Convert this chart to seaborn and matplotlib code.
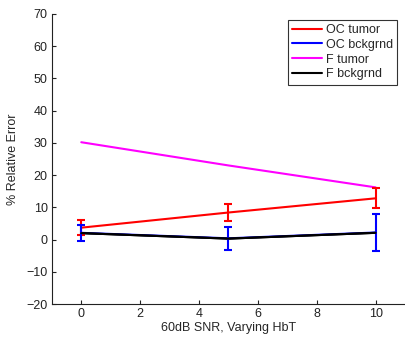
import numpy as np
import pandas as pd
import matplotlib
matplotlib.use("Agg")
import matplotlib.pyplot as plt
import seaborn as sns

x_vals = [0, 5, 10]
oc_tumor = [3.7, 8.4, 12.8]
oc_tumor_err = [2.4, 2.6, 3.1]
oc_bck = [2.1, 0.4, 2.2]
oc_bck_err = [2.5, 3.5, 5.6]
f_tumor = [30.2, 23.0, 16.2]
f_bck = [2.0, 0.3, 2.1]
series_names = ["OC tumor", "OC bckgrnd", "F tumor", "F bckgrnd"]
colors = ["#ff0000", "#0000ff", "#ff00ff", "#000000"]

sns.set_style("ticks")
plt.rcParams["font.family"] = ["Liberation Sans", "DejaVu Sans"]
plt.rcParams["xtick.direction"] = "in"
plt.rcParams["ytick.direction"] = "in"

fig = plt.figure(figsize=(4.05, 3.39), dpi=100)
ax = fig.add_axes([0.128, 0.103, 0.872, 0.856])

df = pd.concat([
    pd.DataFrame({"x": x_vals, "y": vals, "series": name})
    for name, vals in zip(series_names, [oc_tumor, oc_bck, f_tumor, f_bck])
])

sns.lineplot(data=df, x="x", y="y", hue="series", hue_order=series_names,
             palette=colors, linewidth=1.5, ax=ax, legend=True)

ax.errorbar(x_vals, oc_tumor, yerr=oc_tumor_err, fmt="none", ecolor=colors[0],
            elinewidth=1.5, capsize=3, capthick=1.5, zorder=3)
ax.errorbar(x_vals, oc_bck, yerr=oc_bck_err, fmt="none", ecolor=colors[1],
            elinewidth=1.5, capsize=3, capthick=1.5, zorder=3)
# redraw black on top
ax.plot(x_vals, f_bck, color=colors[3], linewidth=1.5, zorder=4)

ax.set_xlim(-1, 11)
ax.set_ylim(-20, 70)
ax.set_xticks([0, 2, 4, 6, 8, 10])
ax.set_yticks(np.arange(-20, 71, 10))
ax.set_yticklabels([f"\u2212{abs(v)}" if v < 0 else str(v) for v in range(-20, 71, 10)])
ax.tick_params(labelsize=9, length=3, width=0.8, colors="#222222", pad=3)
ax.set_xlabel("60dB SNR, Varying HbT", fontsize=9, labelpad=1)
ax.set_ylabel("% Relative Error", fontsize=9, labelpad=5)
for s in ["top", "right"]:
    ax.spines[s].set_visible(False)
for s in ["left", "bottom"]:
    ax.spines[s].set_linewidth(0.8)
    ax.spines[s].set_color("#222222")

leg = ax.legend(loc="upper right", bbox_to_anchor=(0.978, 0.98), fontsize=9,
                frameon=True, fancybox=False, edgecolor="black",
                handlelength=2.4, handletextpad=0.3, borderpad=0.35,
                labelspacing=0.22, borderaxespad=0)
leg.get_frame().set_linewidth(0.8)
for line in leg.get_lines():
    line.set_linewidth(1.5)

fig.savefig("out.png", dpi=100)
